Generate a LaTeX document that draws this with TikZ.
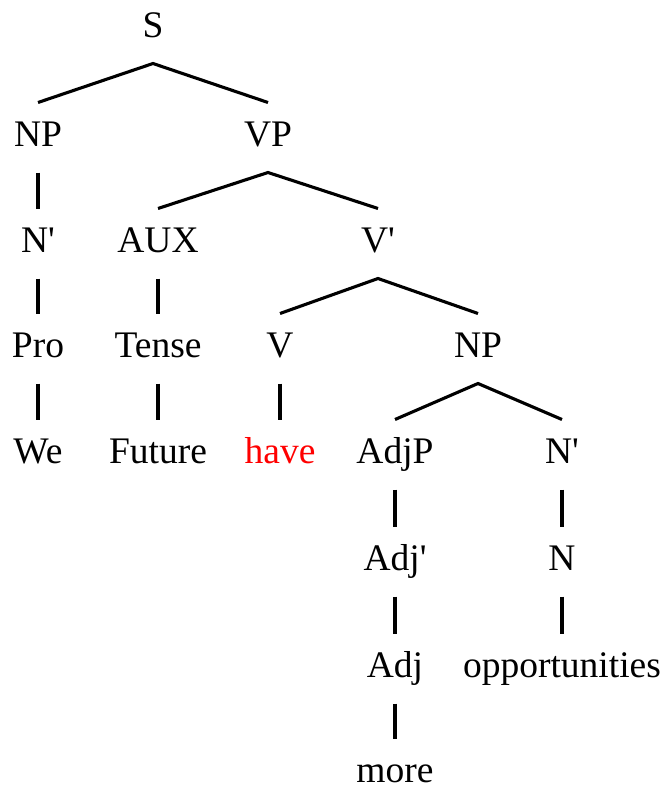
\documentclass[tikz,border=0pt]{standalone}
\usepackage{fontspec}
\newfontfamily\tnr{Liberation Serif}
\definecolor{hlred}{RGB}{255,0,0}
\tikzset{
  tn/.style={anchor=base, font=\tnr\fontsize{37.5}{40}\selectfont, text height=25pt, text depth=8pt, inner xsep=0pt, inner ysep=18.5pt, outer sep=0pt},
  br/.style={line width=3.1pt, line cap=butt}
}
\begin{document}
\begin{tikzpicture}[x=1pt,y=-1pt]
\useasboundingbox (0,0) rectangle (668,787);
\node[tn] (S) at (153,37) {S};
\node[tn] (NPa) at (38,146) {NP};
\node[tn] (VP) at (268,146) {VP};
\node[tn] (Nba) at (38,252) {N'};
\node[tn] (AUX) at (158,252) {AUX};
\node[tn] (Vb) at (378,252) {V'};
\node[tn] (Pro) at (38,357) {Pro};
\node[tn] (Tense) at (158,357) {Tense};
\node[tn] (V) at (280,357) {V};
\node[tn] (NPb) at (478,357) {NP};
\node[tn] (We) at (38,463) {We};
\node[tn] (Future) at (158,463) {Future};
\node[tn, text=hlred] (have) at (280,463) {have};
\node[tn] (AdjP) at (395,463) {AdjP};
\node[tn] (Nbb) at (562,463) {N'};
\node[tn] (Adjb) at (395,570) {Adj'};
\node[tn] (N) at (562,570) {N};
\node[tn] (Adj) at (395,677) {Adj};
\node[tn] (opp) at (562,677) {opportunities};
\node[tn] (more) at (395,782) {more};
\draw[br] (NPa.north) -- (S.south) -- (VP.north);
\draw[br] (NPa.south) -- (Nba.north);
\draw[br] (AUX.north) -- (VP.south) -- (Vb.north);
\draw[br] (Nba.south) -- (Pro.north);
\draw[br] (AUX.south) -- (Tense.north);
\draw[br] (V.north) -- (Vb.south) -- (NPb.north);
\draw[br] (Pro.south) -- (We.north);
\draw[br] (Tense.south) -- (Future.north);
\draw[br] (V.south) -- (have.north);
\draw[br] (AdjP.north) -- (NPb.south) -- (Nbb.north);
\draw[br] (AdjP.south) -- (Adjb.north);
\draw[br] (Nbb.south) -- (N.north);
\draw[br] (Adjb.south) -- (Adj.north);
\draw[br] (N.south) -- (opp.north);
\draw[br] (Adj.south) -- (more.north);
\end{tikzpicture}
\end{document}
